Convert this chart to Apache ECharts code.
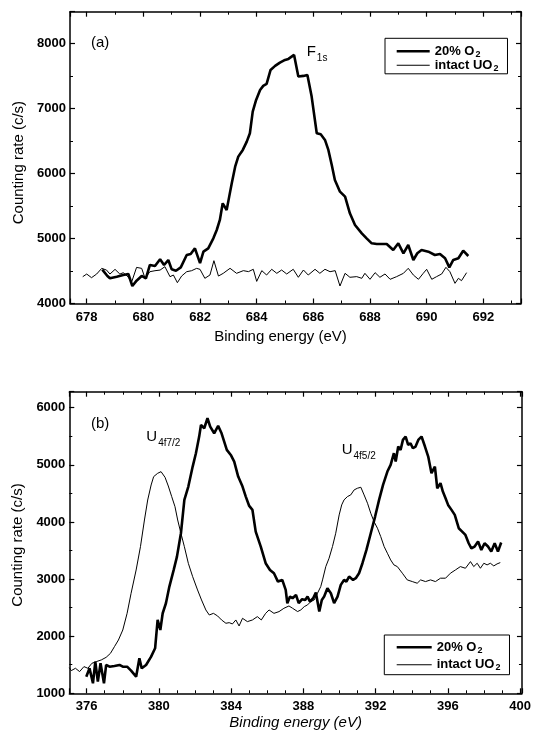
<!DOCTYPE html>
<html><head><meta charset="utf-8">
<script src="https://cdn.jsdelivr.net/npm/echarts@6/dist/echarts.min.js"></script>
<style>html,body{margin:0;padding:0;background:#fff}#c{width:534px;height:737px}</style>
</head><body><div id="c"></div>
<script>
// ---------- data ----------
const seriesNames = ['20% O2', 'intact UO2'];
const xTicksA = [678, 680, 682, 684, 686, 688, 690, 692];
const yTicksA = [4000, 5000, 6000, 7000, 8000];
const xTicksB = [376, 380, 384, 388, 392, 396, 400];
const yTicksB = [1000, 2000, 3000, 4000, 5000, 6000];

// panel (a): F1s, 20% O2
const o2A = [[678.55,4520],[678.73,4423],[678.82,4387],[679.06,4412],[679.29,4438],[679.47,4453],[679.61,4269],[679.76,4351],[679.94,4423],[680.09,4387],[680.23,4592],[680.41,4576],[680.59,4679],[680.73,4592],[680.88,4668],[681.0,4525],[681.15,4504],[681.32,4555],[681.53,4745],[681.67,4760],[681.82,4848],[682.0,4620],[682.12,4797],[682.29,4848],[682.47,5002],[682.59,5130],[682.7,5284],[682.8,5540],[682.94,5438],[683.03,5643],[683.12,5848],[683.24,6104],[683.35,6258],[683.51,6361],[683.65,6489],[683.76,6617],[683.86,6950],[683.98,7130],[684.12,7283],[684.23,7345],[684.35,7376],[684.49,7591],[684.65,7653],[684.82,7704],[685.0,7745],[685.12,7760],[685.32,7822],[685.47,7489],[685.65,7499],[685.79,7514],[685.94,7181],[686.12,6617],[686.26,6602],[686.41,6515],[686.53,6361],[686.65,6130],[686.76,5899],[686.94,5719],[687.12,5642],[687.29,5387],[687.47,5207],[687.71,5079],[687.88,5002],[688.06,4925],[688.24,4915],[688.59,4915],[688.82,4822],[689.0,4925],[689.18,4772],[689.35,4899],[689.53,4669],[689.67,4772],[689.82,4822],[690.06,4797],[690.29,4746],[690.47,4761],[690.65,4695],[690.8,4556],[690.94,4669],[691.12,4695],[691.29,4812],[691.47,4730]];
// panel (a): intact UO2
const uo2A = [[677.86,4412],[678.0,4453],[678.17,4397],[678.35,4453],[678.53,4540],[678.7,4514],[678.82,4453],[679.0,4525],[679.17,4453],[679.29,4473],[679.43,4422],[679.59,4335],[679.76,4555],[679.94,4540],[680.06,4387],[680.23,4489],[680.41,4504],[680.59,4514],[680.76,4566],[680.94,4412],[681.06,4438],[681.2,4320],[681.35,4422],[681.53,4489],[681.7,4504],[681.88,4540],[682.0,4525],[682.17,4387],[682.35,4438],[682.49,4658],[682.65,4422],[682.82,4464],[683.06,4541],[683.29,4464],[683.53,4505],[683.71,4490],[683.88,4526],[684.0,4340],[684.18,4505],[684.35,4438],[684.53,4526],[684.71,4464],[684.88,4515],[685.06,4454],[685.29,4526],[685.47,4403],[685.65,4515],[685.82,4438],[686.06,4526],[686.23,4464],[686.41,4526],[686.59,4489],[686.77,4505],[686.94,4269],[687.12,4464],[687.29,4403],[687.53,4413],[687.71,4387],[687.82,4464],[688.0,4372],[688.18,4474],[688.35,4403],[688.53,4454],[688.71,4372],[688.94,4413],[689.18,4464],[689.35,4541],[689.53,4438],[689.71,4372],[689.88,4464],[690.0,4526],[690.18,4372],[690.35,4413],[690.53,4454],[690.68,4556],[690.82,4489],[691.0,4310],[691.12,4387],[691.23,4351],[691.41,4474]];

// panel (b): U4f, 20% O2
const o2B = [[375.98,1291],[376.16,1437],[376.35,1175],[376.48,1554],[376.62,1204],[376.77,1525],[376.96,1175],[377.08,1496],[377.27,1466],[377.54,1478],[377.82,1496],[378.0,1466],[378.24,1466],[378.46,1396],[378.74,1291],[378.92,1612],[379.05,1437],[379.29,1496],[379.57,1642],[379.79,1788],[379.93,2284],[380.08,2109],[380.21,2401],[380.39,2576],[380.58,2868],[380.82,3160],[381.0,3393],[381.22,3802],[381.41,4385],[381.63,4619],[381.87,4969],[382.05,5202],[382.23,5494],[382.33,5698],[382.51,5640],[382.69,5815],[382.84,5669],[383.06,5552],[383.28,5681],[383.47,5552],[383.76,5261],[383.98,5173],[384.17,5056],[384.39,4794],[384.63,4619],[384.81,4444],[385.0,4280],[385.18,4210],[385.36,3831],[385.64,3568],[385.91,3277],[386.15,3160],[386.37,3102],[386.59,2956],[386.83,2985],[387.02,2810],[387.11,2576],[387.26,2693],[387.4,2664],[387.59,2723],[387.74,2577],[387.93,2647],[388.1,2635],[388.23,2693],[388.36,2606],[388.54,2664],[388.69,2763],[388.88,2431],[389.02,2635],[389.15,2693],[389.33,2839],[389.52,2752],[389.7,2577],[389.89,2693],[390.07,2898],[390.25,2985],[390.38,2956],[390.53,3044],[390.75,2985],[390.9,3015],[391.08,3102],[391.27,3277],[391.49,3510],[391.73,3802],[391.97,4094],[392.19,4386],[392.41,4648],[392.65,4882],[392.83,4999],[393.01,5203],[393.11,5057],[393.25,5320],[393.38,5261],[393.51,5436],[393.66,5495],[393.8,5349],[393.93,5378],[394.06,5290],[394.21,5320],[394.36,5436],[394.54,5495],[394.73,5320],[394.91,5145],[395.09,4853],[395.28,4969],[395.41,4590],[395.59,4678],[395.72,4532],[395.87,4415],[396.01,4298],[396.2,4211],[396.38,4123],[396.6,3890],[396.79,3831],[396.97,3773],[397.15,3627],[397.3,3539],[397.48,3569],[397.67,3656],[397.85,3510],[398.03,3627],[398.22,3569],[398.4,3481],[398.59,3627],[398.77,3481],[398.95,3639]];
// panel (b): intact UO2
const uo2B = [[375.04,1450],[375.15,1397],[375.38,1438],[375.61,1380],[375.85,1467],[376.07,1438],[376.29,1525],[376.53,1554],[376.81,1584],[377.08,1630],[377.32,1700],[377.54,1817],[377.76,1933],[378.0,2108],[378.24,2400],[378.46,2750],[378.74,3159],[378.98,3567],[379.2,4034],[379.38,4384],[379.57,4647],[379.71,4793],[379.93,4851],[380.12,4880],[380.34,4781],[380.52,4629],[380.71,4443],[380.89,4268],[381.04,4034],[381.22,3801],[381.41,3567],[381.63,3275],[381.87,3042],[382.14,2809],[382.36,2634],[382.6,2459],[382.79,2371],[383.02,2400],[383.25,2354],[383.47,2284],[383.71,2226],[383.89,2237],[384.07,2214],[384.26,2284],[384.44,2179],[384.63,2313],[384.9,2255],[385.18,2284],[385.45,2342],[385.67,2284],[385.91,2400],[386.1,2459],[386.37,2400],[386.65,2430],[386.92,2488],[387.2,2529],[387.4,2489],[387.68,2431],[387.86,2460],[388.05,2518],[388.23,2548],[388.41,2606],[388.6,2635],[388.78,2752],[388.96,2868],[389.06,2985],[389.24,3218],[389.42,3364],[389.61,3569],[389.79,3802],[389.98,4123],[390.12,4298],[390.25,4386],[390.44,4444],[390.62,4473],[390.81,4561],[390.99,4590],[391.18,4607],[391.36,4473],[391.55,4327],[391.73,4152],[391.91,4006],[392.1,3890],[392.28,3744],[392.47,3569],[392.65,3452],[392.83,3335],[393.01,3248],[393.2,3218],[393.48,3102],[393.75,2985],[394.03,2956],[394.3,2927],[394.49,2985],[394.76,2956],[395.04,2985],[395.31,2956],[395.59,3015],[395.87,3015],[396.14,3102],[396.42,3160],[396.69,3218],[396.97,3189],[397.25,3306],[397.43,3218],[397.62,3277],[397.8,3189],[397.99,3277],[398.17,3248],[398.35,3277],[398.54,3230],[398.72,3265],[398.9,3288]];

// ---------- chart ----------
const FONT = '"Liberation Sans", Arial, Helvetica, sans-serif';
const BLACK = '#000';
const THICK = 2.6, THIN = 1;

function onTick(list) {
  return function (v) {
    const r = Math.round(v * 1000) / 1000;
    return list.indexOf(r) >= 0 ? String(r) : '';
  };
}
function xAxisDef(grid, position, min, max, step, split, ticks, labelOn, extra) {
  return Object.assign({
    type: 'value', gridIndex: grid, position: position, min: min, max: max,
    minInterval: step, maxInterval: step,
    axisLine: { show: true, onZero: false, lineStyle: { color: BLACK, width: 1.5 } },
    axisTick: { show: true, inside: true, length: 5, lineStyle: { color: BLACK, width: 1.2 } },
    minorTick: { show: true, splitNumber: split, length: 3, lineStyle: { color: BLACK, width: 1 } },
    splitLine: { show: false }, minorSplitLine: { show: false },
    axisLabel: { show: labelOn, margin: 7, color: BLACK, fontFamily: FONT, fontSize: 13,
      fontWeight: 'bold', formatter: onTick(ticks), showMinLabel: false }
  }, extra || {});
}
function yAxisDef(grid, position, min, max, step, ticks, labelOn, extra) {
  return Object.assign({
    type: 'value', gridIndex: grid, position: position, min: min, max: max,
    minInterval: step, maxInterval: step,
    axisLine: { show: true, onZero: false, lineStyle: { color: BLACK, width: 1.5 } },
    axisTick: { show: true, inside: true, length: 5, lineStyle: { color: BLACK, width: 1.2 } },
    minorTick: { show: true, splitNumber: 2, length: 3, lineStyle: { color: BLACK, width: 1 } },
    splitLine: { show: false }, minorSplitLine: { show: false },
    axisLabel: { show: labelOn, margin: 4, color: BLACK, fontFamily: FONT, fontSize: 13,
      fontWeight: 'bold', formatter: onTick(ticks) }
  }, extra || {});
}
const titleStyle = { color: BLACK, fontFamily: FONT, fontSize: 15 };
const legendRich = { s: { fontFamily: FONT, fontSize: 9, fontWeight: 'bold', color: BLACK, padding: [6, 0, 0, 1] } };
const annRich = { s: { fontFamily: FONT, fontSize: 10, fill: BLACK, padding: [13, 0, 0, 1] } };
function subName(n) { return n.replace(/2$/, '{s|2}'); }
function barIcon(w, h) { return 'path://M0,0H' + w + 'V' + h + 'H0Z'; }
function legendDef(left, top, padding, gap, width) {
  return { data: [
      { name: seriesNames[0], icon: barIcon(width, THICK) },
      { name: seriesNames[1], icon: barIcon(width, THIN) }
    ],
    orient: 'vertical', left: left, top: top, selectedMode: false,
    padding: padding, itemGap: gap, itemWidth: width, itemHeight: 10,
    borderColor: BLACK, borderWidth: 1, borderRadius: 0,
    itemStyle: { color: BLACK, borderWidth: 0 },
    textStyle: { fontFamily: FONT, fontSize: 13, fontWeight: 'bold', color: BLACK, rich: legendRich },
    formatter: subName };
}

const option = {
  animation: false,
  backgroundColor: '#fff',
  textStyle: { fontFamily: FONT },
  grid: [
    { left: 70, right: 13, top: 11.7, bottom: 433.5 },
    { left: 69.3, right: 11, top: 391.7, bottom: 43.7 }
  ],
  xAxis: [
    xAxisDef(0, 'bottom', 677.41, 693.33, 2, 2, xTicksA, true, {
      name: 'Binding energy (eV)', nameLocation: 'middle', nameGap: 26,
      nameTextStyle: Object.assign({ padding: [0, 30, 0, 0] }, titleStyle) }),
    xAxisDef(0, 'top', 677.41, 693.33, 2, 2, xTicksA, false),
    xAxisDef(1, 'bottom', 375.04, 400.1, 4, 4, xTicksB, true, {
      name: 'Binding energy (eV)', nameLocation: 'middle', nameGap: 22,
      nameTextStyle: Object.assign({ fontStyle: 'italic' }, titleStyle) }),
    xAxisDef(1, 'top', 375.04, 400.1, 4, 4, xTicksB, false)
  ],
  yAxis: [
    yAxisDef(0, 'left', 4000, 8486, 1000, yTicksA, true, {
      name: 'Counting rate (c/s)', nameLocation: 'middle', nameGap: 44, nameRotate: 90,
      nameTextStyle: Object.assign({ padding: [0, 10, 0, 0] }, titleStyle) }),
    yAxisDef(0, 'right', 4000, 8486, 1000, yTicksA, false),
    yAxisDef(1, 'left', 1000, 6280, 1000, yTicksB, true, {
      name: 'Counting rate (c/s)', nameLocation: 'middle', nameGap: 44, nameRotate: 90,
      nameTextStyle: Object.assign({ padding: [0, 5, 0, 0] }, titleStyle) }),
    yAxisDef(1, 'right', 1000, 6280, 1000, yTicksB, false)
  ],
  legend: [
    legendDef(385, 38.3, [6.5, 9, 1, 11.7], 0, 33),
    legendDef(384.3, 635, [5.8, 9, 2.5, 12.4], 3.4, 35)
  ],
  graphic: [
    { type: 'text', x: 91, y: 43.3, style: { text: '(a)', fontFamily: FONT, fontSize: 15, fill: BLACK, verticalAlign: 'middle' } },
    { type: 'text', x: 306.7, y: 52, style: { text: 'F{s|1s}', fontFamily: FONT, fontSize: 15, fill: BLACK, verticalAlign: 'middle', rich: annRich } },
    { type: 'text', x: 91, y: 424, style: { text: '(b)', fontFamily: FONT, fontSize: 15, fill: BLACK, verticalAlign: 'middle' } },
    { type: 'text', x: 146.3, y: 436.7, style: { text: 'U{s|4f7/2}', fontFamily: FONT, fontSize: 15, fill: BLACK, verticalAlign: 'middle', rich: annRich } },
    { type: 'text', x: 341.7, y: 450, style: { text: 'U{s|4f5/2}', fontFamily: FONT, fontSize: 15, fill: BLACK, verticalAlign: 'middle', rich: annRich } }
  ],
  series: [
    { name: seriesNames[0], type: 'line', xAxisIndex: 0, yAxisIndex: 0, data: o2A, symbol: 'none', showSymbol: false,
      lineStyle: { color: BLACK, width: THICK }, itemStyle: { color: BLACK }, z: 3 },
    { name: seriesNames[1], type: 'line', xAxisIndex: 0, yAxisIndex: 0, data: uo2A, symbol: 'none', showSymbol: false,
      lineStyle: { color: BLACK, width: THIN }, itemStyle: { color: BLACK }, z: 2 },
    { name: seriesNames[0], type: 'line', xAxisIndex: 2, yAxisIndex: 2, data: o2B, symbol: 'none', showSymbol: false,
      lineStyle: { color: BLACK, width: THICK }, itemStyle: { color: BLACK }, z: 3 },
    { name: seriesNames[1], type: 'line', xAxisIndex: 2, yAxisIndex: 2, data: uo2B, symbol: 'none', showSymbol: false,
      lineStyle: { color: BLACK, width: THIN }, itemStyle: { color: BLACK }, z: 2 }
  ]
};
const chart = echarts.init(document.getElementById('c'), null, { renderer: 'canvas' });
chart.setOption(option);
</script>
</body></html>
